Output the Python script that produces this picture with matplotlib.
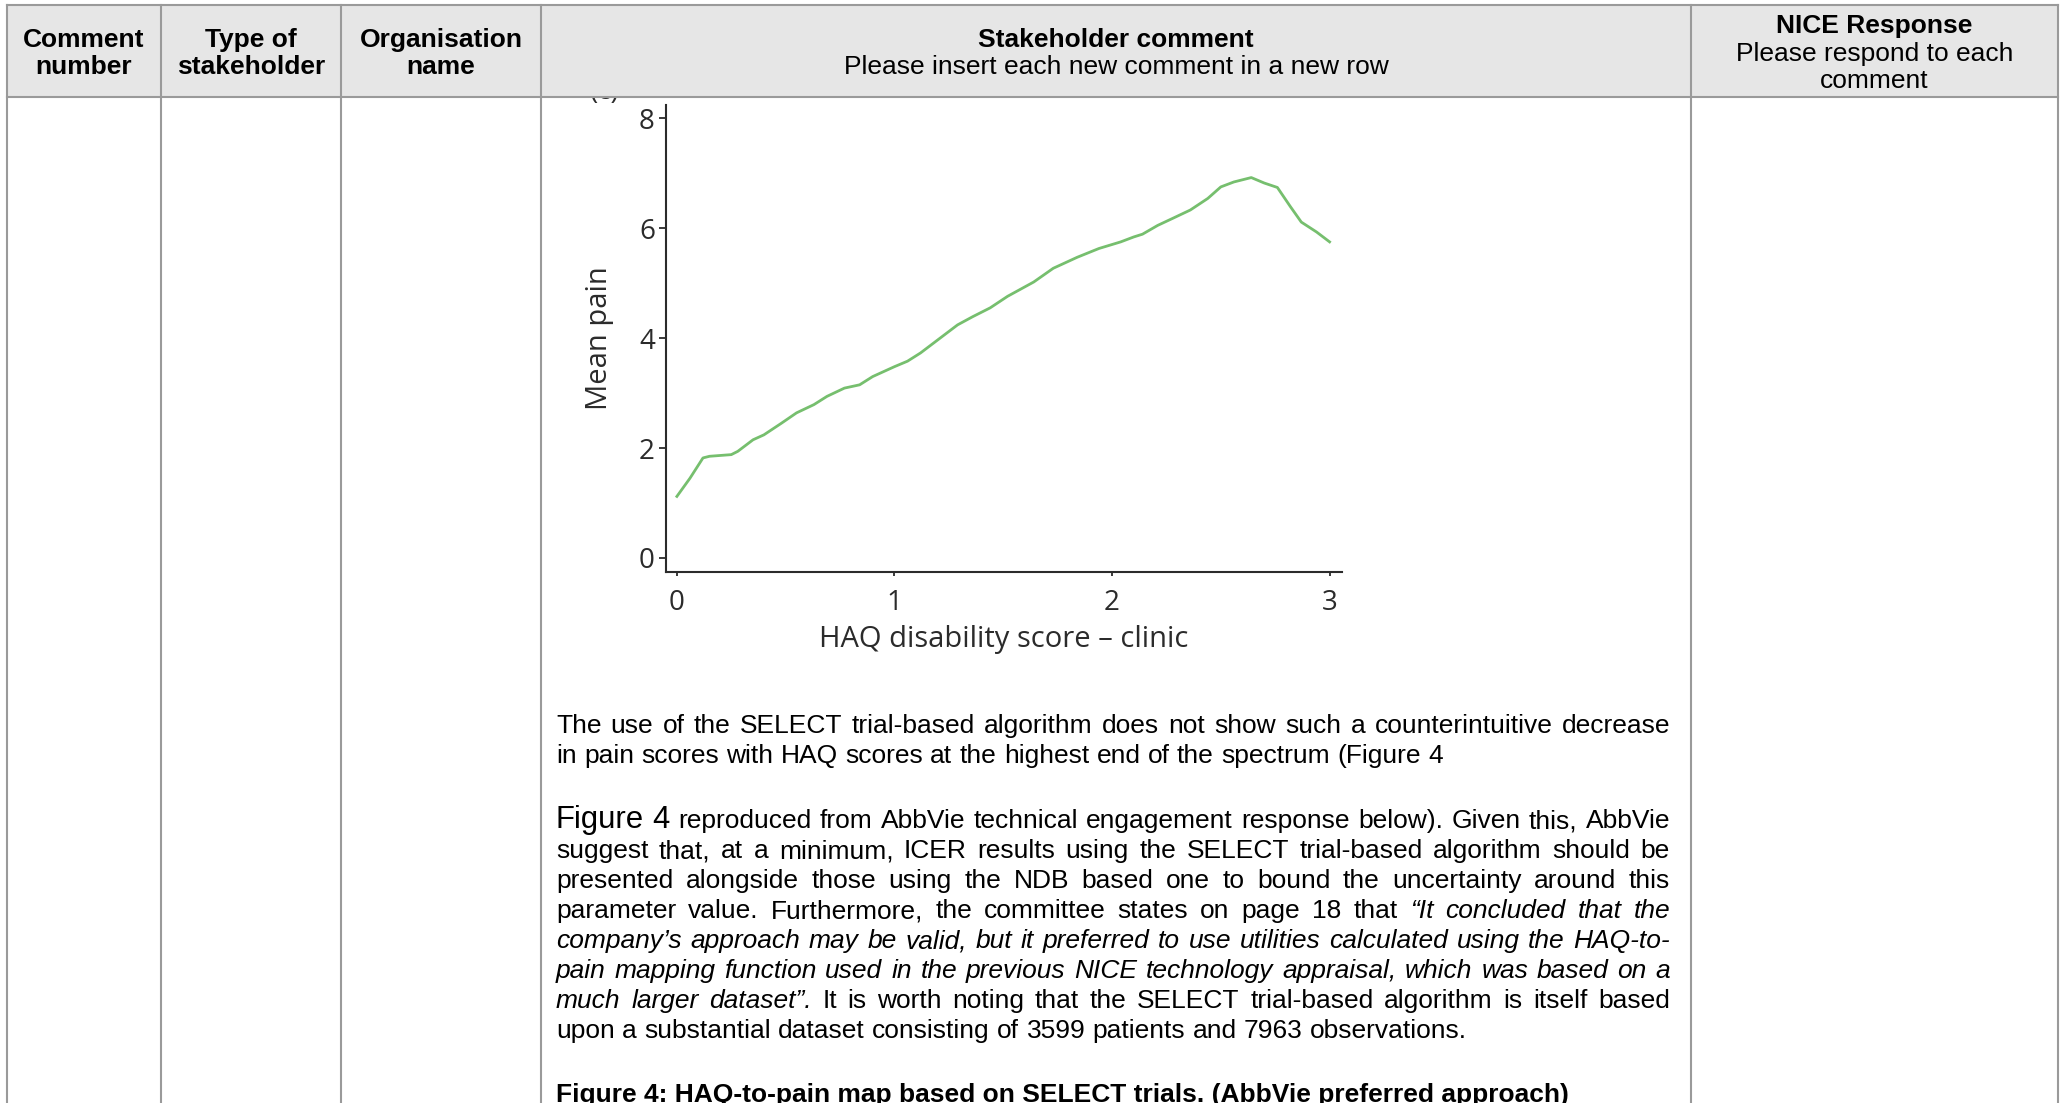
import matplotlib
matplotlib.use('Agg')
import matplotlib.pyplot as plt
from matplotlib.patches import Rectangle
from matplotlib.lines import Line2D

W, H = 2065, 1103

# chart data
haq_score = [0.00, 0.06, 0.12, 0.15, 0.25, 0.28, 0.35, 0.40, 0.48, 0.55, 0.63, 0.69,
             0.77, 0.84, 0.90, 1.00, 1.06, 1.12, 1.20, 1.29, 1.36, 1.44, 1.52, 1.58,
             1.64, 1.73, 1.84, 1.94, 2.04, 2.10, 2.14, 2.21, 2.28, 2.36, 2.44, 2.50,
             2.56, 2.64, 2.70, 2.76, 2.82, 2.87, 2.94, 3.00]
mean_pain = [1.12, 1.45, 1.82, 1.85, 1.88, 1.94, 2.15, 2.24, 2.45, 2.64, 2.79, 2.94,
             3.09, 3.15, 3.30, 3.48, 3.58, 3.73, 3.97, 4.24, 4.39, 4.55, 4.76, 4.89,
             5.02, 5.27, 5.47, 5.63, 5.75, 5.84, 5.89, 6.05, 6.18, 6.33, 6.54, 6.75,
             6.84, 6.92, 6.82, 6.74, 6.39, 6.11, 5.93, 5.75]
x_ticks = [0, 1, 2, 3]
y_ticks = [0, 2, 4, 6, 8]

# table header
col_edges = [7, 161, 341, 541, 1691, 2058]
headers = [
    [("Comment", "bold"), ("number", "bold")],
    [("Type of", "bold"), ("stakeholder", "bold")],
    [("Organisation", "bold"), ("name", "bold")],
    [("Stakeholder comment", "bold"), ("Please insert each new comment in a new row", "normal")],
    [("NICE Response", "bold"), ("Please respond to each", "normal"), ("comment", "normal")],
]

para1 = [
    [("The use of the SELECT trial-based algorithm does not show such a counterintuitive decrease", "n")],
    [("in pain scores with HAQ scores at the highest end of the spectrum (Figure 4", "n")],
]
para2 = [
    [("Figure 4", "big"), ("reproduced from AbbVie technical engagement response below). Given this, AbbVie", "n")],
    [("suggest that, at a minimum, ICER results using the SELECT trial-based algorithm should be", "n")],
    [("presented alongside those using the NDB based one to bound the uncertainty around this", "n")],
    [("parameter value.  Furthermore, the committee states on page 18 that", "n"), ("\u201cIt concluded that the", "i")],
    [("company\u2019s approach may be valid, but it preferred to use utilities calculated using the HAQ-to-", "i")],
    [("pain mapping function used in the previous NICE technology appraisal, which was based on a", "i")],
    [("much larger dataset\u201d.", "i"), ("It is worth noting that the SELECT trial-based algorithm is itself based", "n")],
    [("upon a substantial dataset consisting of 3599 patients and 7963 observations.", "n")],
]
caption = "Figure 4: HAQ-to-pain map based on SELECT trials. (AbbVie preferred approach)"

BODY = 19
DOC_FONT = 'Liberation Sans'
CHART_FONT = 'Open Sans'
GRID = '#9a9a9a'
INK = '#2b2b2b'


def fx(x):
    return x / W


def fy(y):
    return 1 - y / H


fig = plt.figure(figsize=(W / 100, H / 100), dpi=100)
fig.patch.set_facecolor('white')

# --- the embedded chart ---
ax = fig.add_axes([fx(666), fy(572), fx(1342) - fx(666), fy(105) - fy(572)])
ax.plot(haq_score, mean_pain, color='#76bf6e', lw=2.0)
ax.set_xlim(-0.05, 3.057)
ax.set_ylim(-0.255, 8.24)
ax.set_xticks(x_ticks)
ax.set_yticks(y_ticks)
for s in ['top', 'right']:
    ax.spines[s].set_visible(False)
for s in ['left', 'bottom']:
    ax.spines[s].set_color(INK)
    ax.spines[s].set_linewidth(1.5)
ax.tick_params(axis='y', length=5, width=1.3, pad=3, colors=INK, labelsize=20)
ax.tick_params(axis='x', length=3, width=1.3, pad=9, colors=INK, labelsize=20)
for lab in ax.get_xticklabels() + ax.get_yticklabels():
    lab.set_family(CHART_FONT)
ax.set_xlabel("HAQ disability score \u2013 clinic", fontsize=21, family=CHART_FONT, color=INK)
ax.set_ylabel("Mean pain", fontsize=21, family=CHART_FONT, color=INK)
ax.xaxis.label.set_va('center')
ax.yaxis.label.set_va('center')
ax.xaxis.set_label_coords(0.5, (572 - 640) / 467)
ax.yaxis.set_label_coords((599 - 666) / 676, 0.5)

# panel letter cut by the header row
fig.text(fx(605), fy(99), "(c)", fontsize=20, family=CHART_FONT, color=INK,
         ha='center', va='baseline', zorder=1)

# --- table ---
fig.patches.append(Rectangle((fx(col_edges[0]), fy(97)), fx(col_edges[-1]) - fx(col_edges[0]),
                             fy(5) - fy(97), transform=fig.transFigure,
                             facecolor='#e6e6e6', edgecolor='none', zorder=3))
for y in [5, 97]:
    fig.lines.append(Line2D([fx(col_edges[0]), fx(col_edges[-1])], [fy(y), fy(y)],
                            transform=fig.transFigure, color=GRID, lw=1.5, zorder=4))
for x in col_edges:
    fig.lines.append(Line2D([fx(x), fx(x)], [fy(5), fy(H + 5)],
                            transform=fig.transFigure, color=GRID, lw=1.5, zorder=4))

for i, lines in enumerate(headers):
    cx = (col_edges[i] + col_edges[i + 1]) / 2
    n = len(lines)
    first = 51 - (n - 1) * 13.5 + 9.5
    for j, (txt, wt) in enumerate(lines):
        fig.text(fx(cx), fy(first + j * 27), txt, fontsize=BODY, family=DOC_FONT,
                 fontweight=wt, ha='center', va='baseline', zorder=5)

# --- body text, justified like the document ---
renderer = fig.canvas.get_renderer()
X0, X1 = 556, 1670
space = 0.278 * BODY * 100 / 72


def draw_line(segments, base, justify):
    arts = []
    for txt, st in segments:
        for word in txt.split():
            kw = dict(fontsize=BODY, family=DOC_FONT, ha='left', va='baseline', color='black')
            if st == 'i':
                kw['fontstyle'] = 'italic'
            if st == 'big':
                kw['fontsize'] = BODY * 1.18
            arts.append(fig.text(fx(X0), fy(base), word, **kw))
    widths = [a.get_window_extent(renderer).width for a in arts]
    gap = space
    if justify and len(arts) > 1:
        gap = (X1 - X0 - sum(widths)) / (len(arts) - 1)
    x = X0
    for a, w in zip(arts, widths):
        a.set_x(fx(x))
        x += w + gap


base = 733
for k, seg in enumerate(para1):
    draw_line(seg, base, k < len(para1) - 1)
    base += 30
base = 828
for k, seg in enumerate(para2):
    draw_line(seg, base, k < len(para2) - 1)
    base += 30

fig.text(fx(X0), fy(1102), caption, fontsize=BODY, family=DOC_FONT, fontweight='bold',
         ha='left', va='baseline')

fig.savefig('out.png', dpi=100)
